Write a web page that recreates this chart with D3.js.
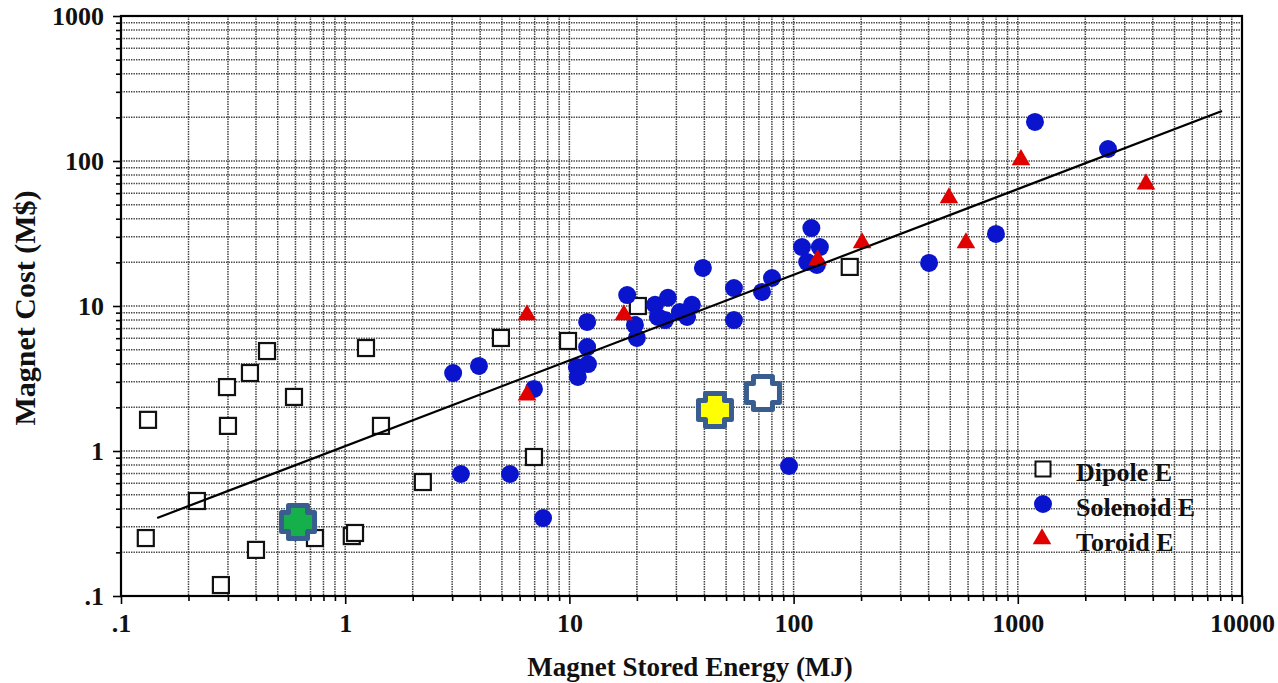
<!DOCTYPE html>
<html>
<head>
<meta charset="utf-8">
<script src="https://cdn.jsdelivr.net/npm/d3@7"></script>
<style>
  html, body { margin: 0; padding: 0; background: #fff; }
  svg text { font-family: "Liberation Serif", "Times New Roman", serif; font-weight: 700; fill: #111; }
</style>
</head>
<body>
<div id="chart-container"></div>
<script>
// Dipole E (open squares)
const dipoleE    = [0.132, 0.129, 0.218, 0.297, 0.300, 0.376, 0.448, 0.591, 0.279, 0.40, 0.733, 1.07, 1.106, 1.238, 1.444, 2.22, 4.95, 6.95, 9.86, 20.2, 178];
const dipoleCost = [1.64, 0.251, 0.452, 2.76, 1.49, 3.45, 4.89, 2.36, 0.119, 0.208, 0.251, 0.259, 0.272, 5.13, 1.49, 0.611, 6.02, 0.909, 5.74, 10.0, 18.6];

// Solenoid E (filled circles)
const solenoidE    = [3.03, 3.95, 3.28, 5.43, 6.95, 7.63, 10.8, 10.9, 12.0, 12.0, 12.1, 18.1, 19.6, 20.0, 24.1, 27.5, 24.8, 26.7, 31.1, 33.5, 35.2, 39.4, 54.2, 54.2, 72.3, 80.1, 95.4, 109, 120, 131, 115, 127, 402, 799, 1193, 2525];
const solenoidCost = [3.45, 3.86, 0.694, 0.694, 2.68, 0.345, 3.80, 3.24, 7.76, 5.21, 3.98, 11.9, 7.4, 6.02, 10.2, 11.4, 8.4, 8.0, 9.09, 8.4, 10.2, 18.3, 13.3, 8.0, 12.5, 15.6, 0.788, 25.5, 34.5, 25.5, 20.1, 19.2, 19.8, 31.4, 186, 121];

// Toroid E (triangles)
const toroidE    = [6.47, 6.47, 17.5, 128, 202, 493, 587, 1033, 3730];
const toroidCost = [8.67, 2.43, 8.67, 20.8, 27.2, 55.6, 27.2, 102, 69.4];

// highlighted designs (crosses)
const crossE    = [0.616, 44.6, 73];
const crossCost = [0.324, 1.92, 2.51];

// fitted trend line end points
const fitE    = [0.145, 8140];
const fitCost = [0.345, 221];

const xTickLabels = [".1", "1", "10", "100", "1000", "10000"];
const yTickLabels = [".1", "1", "10", "100", "1000"];
const legendLabels = ["Dipole E", "Solenoid E", "Toroid E"];

const X_LABEL = "Magnet Stored Energy (MJ)";
const Y_LABEL = "Magnet Cost (M$)";

const CROSS_FILLS = ["#16b04a", "#ffff00", "#ffffff"];
const CROSS_EDGE = "#3a5d8f";
const BLUE = "#0a14cc";
const RED = "#e00000";

const svgWidth = 1278;
const svgHeight = 683;
const margin = { top: 16, right: 36, bottom: 87, left: 121 };
const width = svgWidth - margin.left - margin.right;
const height = svgHeight - margin.top - margin.bottom;

const svg = d3.select("#chart-container")
  .append("svg")
  .attr("width", svgWidth)
  .attr("height", svgHeight);

const chart = svg.append("g")
  .attr("transform", `translate(${margin.left},${margin.top})`);

const scaleX = d3.scaleLog().domain([0.1, 10000]).range([0, width]);
const scaleY = d3.scaleLog().domain([0.1, 1000]).range([height, 0]);

// every 1..9 step inside each decade
function logTicks(lo, hi) {
  const out = [];
  for (let p = Math.log10(lo); p < Math.log10(hi); p++) {
    for (let m = 1; m < 10; m++) out.push(+(m * Math.pow(10, p)).toPrecision(3));
  }
  out.push(hi);
  return out;
}
const xTicks = logTicks(0.1, 10000);
const yTicks = logTicks(0.1, 1000);
const isMajor = v => Math.abs(Math.log10(v) - Math.round(Math.log10(v))) < 1e-6;

// Grid
chart.append("g")
  .selectAll("line")
  .data(xTicks.filter(v => v > 0.1 && v < 10000))
  .enter()
  .append("line")
  .attr("x1", d => scaleX(d)).attr("x2", d => scaleX(d))
  .attr("y1", 0).attr("y2", height)
  .attr("stroke", "#444").attr("stroke-width", 1.5).attr("stroke-dasharray", "1.4,1.1");

chart.append("g")
  .selectAll("line")
  .data(yTicks.filter(v => v > 0.1 && v < 1000))
  .enter()
  .append("line")
  .attr("y1", d => scaleY(d)).attr("y2", d => scaleY(d))
  .attr("x1", 0).attr("x2", width)
  .attr("stroke", "#444").attr("stroke-width", 1.5).attr("stroke-dasharray", "1.4,1.1");

// Axes
const xAxis = chart.append("g")
  .attr("transform", `translate(0,${height})`)
  .call(d3.axisBottom(scaleX)
    .tickValues(xTicks)
    .tickSize(5)
    .tickPadding(13)
    .tickFormat(d => isMajor(d) ? xTickLabels[Math.round(Math.log10(d)) + 1] : ""));

const yAxis = chart.append("g")
  .call(d3.axisLeft(scaleY)
    .tickValues(yTicks)
    .tickSize(5)
    .tickPadding(12)
    .tickFormat(d => isMajor(d) ? yTickLabels[Math.round(Math.log10(d)) + 1] : ""));

[xAxis, yAxis].forEach(ax => {
  ax.select(".domain").remove();
  ax.selectAll(".tick line").attr("stroke", "#000").attr("stroke-width", 1.6);
  ax.selectAll(".tick text").attr("font-size", 26).attr("fill", "#111");
});
xAxis.selectAll(".tick line").filter(d => isMajor(d)).attr("y2", 8);
yAxis.selectAll(".tick line").filter(d => isMajor(d)).attr("x2", -8);

// frame
chart.append("rect")
  .attr("width", width).attr("height", height)
  .attr("fill", "none").attr("stroke", "#000").attr("stroke-width", 2.2);

// Axis labels
chart.append("text")
  .attr("x", 690 - margin.left)
  .attr("y", height + 80)
  .attr("text-anchor", "middle")
  .attr("font-size", 27)
  .text(X_LABEL);

svg.append("text")
  .attr("transform", "translate(35,308) rotate(-90)")
  .attr("text-anchor", "middle")
  .attr("font-size", 30)
  .text(Y_LABEL);

// Markers
const dipole = dipoleE.map((e, i) => ({ e, c: dipoleCost[i] }));
const solenoid = solenoidE.map((e, i) => ({ e, c: solenoidCost[i] }));
const toroid = toroidE.map((e, i) => ({ e, c: toroidCost[i] }));
const crosses = crossE.map((e, i) => ({ e, c: crossCost[i], fill: CROSS_FILLS[i] }));

const SQ = 16;
chart.selectAll(".dipole")
  .data(dipole)
  .enter()
  .append("rect")
  .attr("class", "dipole")
  .attr("x", d => scaleX(d.e) - SQ / 2)
  .attr("y", d => scaleY(d.c) - SQ / 2)
  .attr("width", SQ).attr("height", SQ)
  .attr("fill", "#fff").attr("stroke", "#111").attr("stroke-width", 2.2);

chart.selectAll(".solenoid")
  .data(solenoid)
  .enter()
  .append("circle")
  .attr("class", "solenoid")
  .attr("cx", d => scaleX(d.e))
  .attr("cy", d => scaleY(d.c))
  .attr("r", 9)
  .attr("fill", BLUE);

const tri = d3.symbol().type(d3.symbolTriangle).size(150);
chart.selectAll(".toroid")
  .data(toroid)
  .enter()
  .append("path")
  .attr("class", "toroid")
  .attr("d", tri)
  .attr("transform", d => `translate(${scaleX(d.e)},${scaleY(d.c)})`)
  .attr("fill", RED);

// Fit line
chart.append("line")
  .attr("x1", scaleX(fitE[0])).attr("y1", scaleY(fitCost[0]))
  .attr("x2", scaleX(fitE[1])).attr("y2", scaleY(fitCost[1]))
  .attr("stroke", "#000").attr("stroke-width", 2.2);

// crosses
const h = 9.5, S = 16.5;
const plus = `M${-h},${-S}L${h},${-S}L${h},${-h}L${S},${-h}L${S},${h}L${h},${h}L${h},${S}L${-h},${S}L${-h},${h}L${-S},${h}L${-S},${-h}L${-h},${-h}Z`;
chart.selectAll(".cross")
  .data(crosses)
  .enter()
  .append("path")
  .attr("class", "cross")
  .attr("d", plus)
  .attr("transform", d => `translate(${scaleX(d.e)},${scaleY(d.c)})`)
  .attr("fill", d => d.fill)
  .attr("stroke", CROSS_EDGE)
  .attr("stroke-width", 5)
  .attr("stroke-linejoin", "round");

// Legend
const legend = svg.append("g").attr("transform", "translate(1043,469)");
const rowGap = 35;
legend.append("rect")
  .attr("x", -7.5).attr("y", -7.5).attr("width", 15).attr("height", 15)
  .attr("fill", "#fff").attr("stroke", "#111").attr("stroke-width", 2);
legend.append("circle")
  .attr("cx", 0).attr("cy", rowGap).attr("r", 9).attr("fill", BLUE);
legend.append("path")
  .attr("d", tri)
  .attr("transform", `translate(-1,${rowGap * 2})`)
  .attr("fill", RED);
legend.selectAll(".leg-text")
  .data(legendLabels)
  .enter()
  .append("text")
  .attr("class", "leg-text")
  .attr("x", 33)
  .attr("y", (d, i) => i * rowGap + 12)
  .attr("font-size", 26)
  .text(d => d);
</script>
</body>
</html>
